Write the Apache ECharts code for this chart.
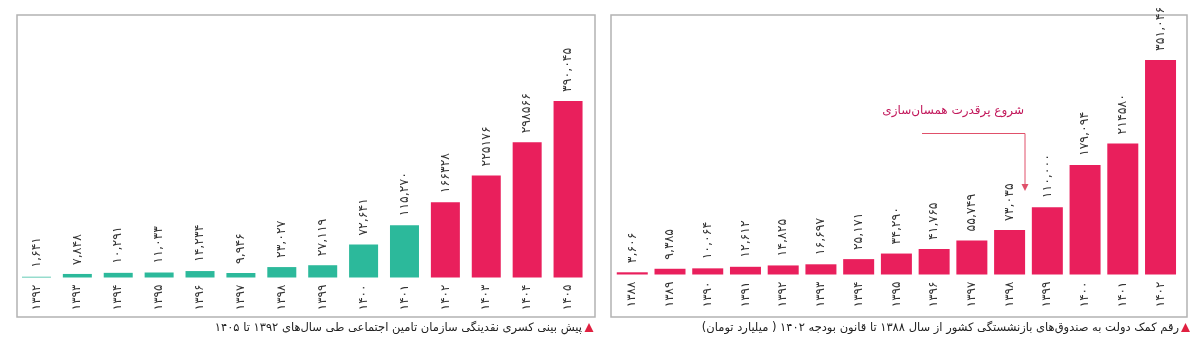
<!DOCTYPE html>
<html>
<head>
<meta charset="utf-8">
<script src="https://cdn.jsdelivr.net/npm/echarts@6/dist/echarts.min.js"></script>
<style>
  html, body { margin: 0; padding: 0; background: #ffffff; }
  #chart { width: 1200px; height: 350px; }
</style>
</head>
<body>
<div id="chart"></div>
<script>
// ---- Left chart: social security liquidity deficit forecast 1392-1405 ----
const leftCategories = ['۱۳۹۲','۱۳۹۳','۱۳۹۴','۱۳۹۵','۱۳۹۶','۱۳۹۷','۱۳۹۸','۱۳۹۹','۱۴۰۰','۱۴۰۱','۱۴۰۲','۱۴۰۳','۱۴۰۴','۱۴۰۵'];
const leftValues = [1641, 7848, 10291, 11033, 14234, 9946, 23027, 27119, 72641, 115270, 166328, 225176, 298566, 390045];
const leftValueLabels = ['۱,۶۴۱','۷,۸۴۸','۱۰,۲۹۱','۱۱,۰۳۳','۱۴,۲۳۴','۹,۹۴۶','۲۳,۰۲۷','۲۷,۱۱۹','۷۲,۶۴۱','۱۱۵,۲۷۰','۱۶۶۳۲۸','۲۲۵۱۷۶','۲۹۸۵۶۶','۳۹۰,۰۴۵'];
const leftForecastFrom = '۱۴۰۲';

// ---- Right chart: government aid to pension funds 1388-1402 ----
const rightCategories = ['۱۳۸۸','۱۳۸۹','۱۳۹۰','۱۳۹۱','۱۳۹۲','۱۳۹۳','۱۳۹۴','۱۳۹۵','۱۳۹۶','۱۳۹۷','۱۳۹۸','۱۳۹۹','۱۴۰۰','۱۴۰۱','۱۴۰۲'];
const rightValues = [3606, 9385, 10064, 12612, 14825, 16697, 25171, 34290, 41765, 55749, 73035, 110000, 179094, 214580, 351046];
const rightValueLabels = ['۳,۶۰۶','۹,۳۸۵','۱۰,۰۶۴','۱۲,۶۱۲','۱۴,۸۲۵','۱۶,۶۹۷','۲۵,۱۷۱','۳۴,۲۹۰','۴۱,۷۶۵','۵۵,۷۴۹','۷۳,۰۳۵','۱۱۰,۰۰۰','۱۷۹,۰۹۴','۲۱۴۵۸۰','۳۵۱,۰۴۶'];

const leftCaption = 'پیش بینی کسری نقدینگی سازمان تامین اجتماعی طی سال\u200cهای ۱۳۹۲ تا ۱۴۰۵';
const rightCaption = 'رقم کمک دولت به صندوق\u200cهای بازنشستگی کشور از سال ۱۳۸۸ تا قانون بودجه ۱۴۰۲ ( میلیارد تومان)';
const annotationText = 'شروع پرقدرت همسان\u200cسازی';

const TEAL = '#2cb99b';
const PINK = '#e91f5c';
const FONT = 'DejaVu Sans';

const chart = echarts.init(document.getElementById('chart'), null, { renderer: 'canvas' });

function catAxis(gridIndex, data) {
  return {
    type: 'category', gridIndex, data,
    axisLine: { show: false }, axisTick: { show: false },
    axisLabel: { rotate: 90, margin: 7, fontSize: 12, color: '#333', fontFamily: FONT, interval: 0 }
  };
}
function valAxis(gridIndex, max) {
  return { type: 'value', gridIndex, min: 0, max, show: false, splitLine: { show: false } };
}
function barLabel(labels) {
  return {
    show: true, position: 'top', distance: 9, rotate: 90,
    align: 'left', verticalAlign: 'middle',
    fontSize: 12.5, color: '#333', fontFamily: FONT,
    formatter: p => labels[p.dataIndex]
  };
}

const forecastIdx = leftCategories.indexOf(leftForecastFrom);

chart.setOption({
  animation: false,
  grid: [
    { left: 16, right: 611.5, top: 51.2, bottom: 72.5 },
    { left: 613.4, right: 20.6, top: 30.1, bottom: 75.5 }
  ],
  xAxis: [catAxis(0, leftCategories), catAxis(1, rightCategories)],
  yAxis: [valAxis(0, 500000), valAxis(1, 400000)],
  series: [
    {
      type: 'bar', xAxisIndex: 0, yAxisIndex: 0, data: leftValues, barWidth: 29,
      itemStyle: { color: p => (p.dataIndex >= forecastIdx ? PINK : TEAL) },
      label: barLabel(leftValueLabels)
    },
    {
      type: 'bar', xAxisIndex: 1, yAxisIndex: 1, data: rightValues, barWidth: 31,
      itemStyle: { color: PINK },
      label: barLabel(rightValueLabels)
    }
  ],
  graphic: [
    { type: 'rect', shape: { x: 17, y: 15, width: 578, height: 302 }, style: { fill: null, stroke: '#b3b3b3', lineWidth: 1.5 }, silent: true },
    { type: 'rect', shape: { x: 611, y: 15, width: 576, height: 302 }, style: { fill: null, stroke: '#b3b3b3', lineWidth: 1.5 }, silent: true },
    // captions
    { type: 'polygon', shape: { points: [[589, 323], [584.5, 332], [593.5, 332]] }, style: { fill: '#e02040' } },
    { type: 'text', style: { text: leftCaption, x: 582, y: 328, align: 'right', verticalAlign: 'middle', fontSize: 11.5, fontFamily: FONT, fill: '#222' } },
    { type: 'polygon', shape: { points: [[1185.5, 323], [1181, 332], [1190, 332]] }, style: { fill: '#e02040' } },
    { type: 'text', style: { text: rightCaption, x: 1179, y: 328, align: 'right', verticalAlign: 'middle', fontSize: 11.5, fontFamily: FONT, fill: '#222' } },
    // annotation
    { type: 'text', style: { text: annotationText, x: 1024, y: 111, align: 'right', verticalAlign: 'middle', fontSize: 12, fontFamily: FONT, fill: '#c2185b' } },
    { type: 'polyline', shape: { points: [[922, 133.5], [1025, 133.5], [1025, 186]] }, style: { stroke: '#e0506a', lineWidth: 1, fill: null } },
    { type: 'polygon', shape: { points: [[1021.5, 184], [1028.5, 184], [1025, 191]] }, style: { fill: '#e0506a' } }
  ]
});
</script>
</body>
</html>
